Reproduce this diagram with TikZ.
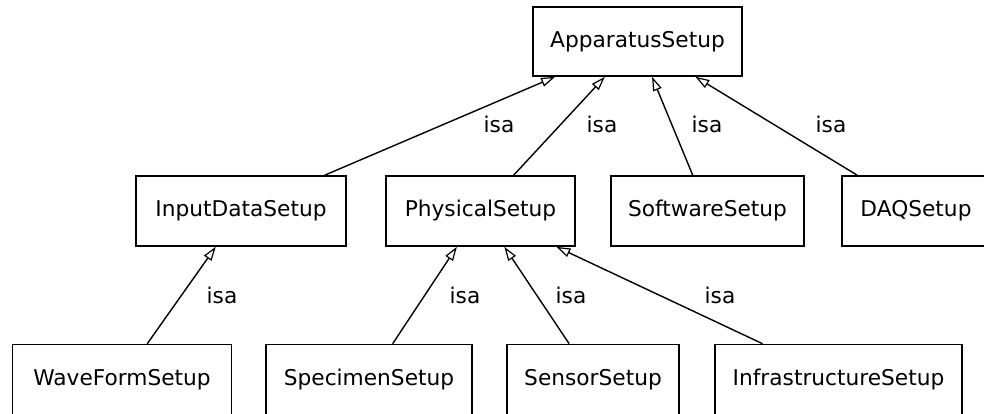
\documentclass[tikz,border=0pt]{standalone}
\usepackage{fontspec}
\setmainfont{DejaVu Sans}
\usetikzlibrary{arrows.meta}

\tikzset{
  classbox/.style={draw=black, line width=1.6pt, fill=white, inner sep=0pt,
    minimum height=70pt, font=\fontsize{21.7}{26}\selectfont},
  isa/.style={draw=black, line width=1.4pt,
    -{Triangle[open, length=14pt, width=9pt, line width=1.2pt]}},
  isalabel/.style={anchor=base, inner sep=0pt, font=\fontsize{21.7}{26}\selectfont}
}

\begin{document}
\begin{tikzpicture}[x=1pt, y=-1pt]
  \useasboundingbox (0,0) rectangle (984,414);
  \clip (0,0) rectangle (984,414);

  % top class
  \node[classbox, minimum width=209pt, minimum height=69pt] (app) at (637.5,41.5) {ApparatusSetup};

  % second level
  \node[classbox, minimum width=210pt] (input) at (241,211) {InputDataSetup};
  \node[classbox, minimum width=189pt] (phys)  at (480.5,211) {PhysicalSetup};
  \node[classbox, minimum width=193pt] (soft)  at (707.5,211) {SoftwareSetup};
  \node[classbox, minimum width=148pt] (daq)   at (916,211) {DAQSetup};

  % third level
  \begin{scope}[every node/.append style={minimum height=68.5pt}]
    \node[classbox, minimum width=219pt] (wave)  at (122,379.5) {WaveFormSetup};
    \node[classbox, minimum width=206pt] (spec)  at (369,379.5) {SpecimenSetup};
    \node[classbox, minimum width=172pt] (sens)  at (593,379.5) {SensorSetup};
    \node[classbox, minimum width=247pt] (infra) at (838.5,379.5) {InfrastructureSetup};
  \end{scope}

  % generalisation links
  \draw[isa] (input) -- (app);
  \draw[isa] (phys)  -- (app);
  \draw[isa] (soft)  -- (app);
  \draw[isa] (daq)   -- (app);
  \draw[isa] (wave)  -- (input);
  \draw[isa] (spec)  -- (phys);
  \draw[isa] (sens)  -- (phys);
  \draw[isa] (infra) -- (phys);

  % link labels
  \node[isalabel] (l1) at (499,133) {isa};
  \node[isalabel] (l2) at (602,133) {isa};
  \node[isalabel] (l3) at (707,133) {isa};
  \node[isalabel] (l4) at (831,133) {isa};
  \node[isalabel] (l5) at (222,303) {isa};
  \node[isalabel] (l6) at (465,303) {isa};
  \node[isalabel] (l7) at (571,303) {isa};
  \node[isalabel] (l8) at (720,303) {isa};
\end{tikzpicture}
\end{document}
